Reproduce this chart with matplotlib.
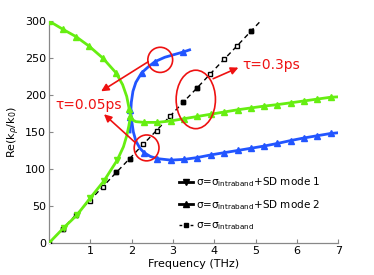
import numpy as np
import matplotlib
matplotlib.use("Agg")
import matplotlib.pyplot as plt
from matplotlib.patches import Ellipse

# ── Data ──────────────────────────────────────────────────────────────────────
# sigma = sigma_intraband (black dashed line)
intra_f = [0, 0.33, 0.65, 0.98, 1.3, 1.63, 1.95, 2.28, 2.6, 2.93, 3.25, 3.58,
           3.9, 4.23, 4.55, 4.88, 5.1]
intra_k = [0, 19, 38, 57, 76, 95.5, 114, 133.5, 152, 171.5, 190.5, 209.5,
           228.5, 248, 266.5, 286, 299]
intra_filled = [1, 5, 6, 10, 11, 15]

# tau = 0.05 ps (green)
g1_f = [0, 0.355, 0.68, 1.0, 1.33, 1.65, 1.8, 1.88, 1.93, 1.96]
g1_k = [0, 20.5, 38, 61, 84, 112, 130, 145, 158, 168]
g1_marks = [1, 2, 3, 4, 5]

g2_f = [0, 0.33, 0.65, 0.97, 1.3, 1.62, 1.78, 1.88, 1.94, 1.97, 2.0, 2.1,
        2.3, 2.62, 2.95, 3.27, 3.59, 3.91, 4.23, 4.56, 4.88, 5.2, 5.52,
        5.85, 6.17, 6.49, 6.81, 7.0]
g2_k = [300, 289, 279, 266, 250, 230, 214, 198, 181, 172, 167, 164,
        163, 163, 165, 168, 171, 174, 177, 180, 182.5, 185, 187,
        189.5, 192, 194.5, 197, 197.5]
g2_marks = [0, 1, 2, 3, 4, 5, 8, 9] + list(range(12, 27))

# tau = 0.3 ps (blue)
b1_f = [1.96, 1.97, 1.99, 2.03, 2.1, 2.24, 2.4, 2.56, 2.8, 3.05, 3.24, 3.4]
b1_k = [150, 170, 190, 205, 217, 230, 238, 245, 251, 255, 258, 261]
b1_marks = [1, 5, 7, 10]

b2_f = [1.97, 2.0, 2.04, 2.1, 2.2, 2.3, 2.45, 2.62, 2.95, 3.27, 3.59, 3.91,
        4.23, 4.56, 4.88, 5.2, 5.52, 5.85, 6.17, 6.49, 6.81, 7.0]
b2_k = [180, 165, 150, 138, 128, 122, 117, 114, 112, 113, 115.5, 119,
        122, 125, 128, 131, 134.5, 138.5, 142, 145, 148, 149]
b2_marks = [0, 5, 7] + list(range(8, 21))

GREEN = "#66ee11"
BLUE = "#2255ff"
RED = "#ee1111"

fig = plt.figure(figsize=(3.74, 2.75), dpi=100)
ax = fig.add_axes([0.131, 0.1164, 0.774, 0.8072])

# intraband line: hollow markers with a few filled ones
ax.plot(intra_f, intra_k, "--", color="black", lw=1.0, dashes=(3.5, 2.5),
        marker="s", ms=3, mfc="white", mec="black", mew=1.0,
        markevery=list(range(16)), zorder=3)
ax.plot([intra_f[i] for i in intra_filled], [intra_k[i] for i in intra_filled],
        "s", color="black", ms=3.2, zorder=3)

ax.plot(b1_f, b1_k, "-", color=BLUE, lw=2, marker="^", ms=4.5, markevery=b1_marks, zorder=4)
ax.plot(b2_f, b2_k, "-", color=BLUE, lw=2, marker="^", ms=4.5, markevery=b2_marks, zorder=4)
ax.plot(g1_f, g1_k, "-", color=GREEN, lw=2, marker="v", ms=4.5, markevery=g1_marks, zorder=5)
ax.plot(g2_f, g2_k, "-", color=GREEN, lw=2, marker="^", ms=4.5, markevery=g2_marks, zorder=5)

# legend proxies
h1, = ax.plot([], [], "-", color="black", lw=2, marker="v", ms=4.5)
h2, = ax.plot([], [], "-", color="black", lw=2, marker="^", ms=4.5)
h3, = ax.plot([], [], "--", color="black", lw=1.0, dashes=(2, 2), marker="s", ms=3)
leg = ax.legend([h1, h2, h3],
                [r"σ=σ$_{\rm intraband}$+SD mode 1",
                 r"σ=σ$_{\rm intraband}$+SD mode 2",
                 r"σ=σ$_{\rm intraband}$"],
                loc="upper left", bbox_to_anchor=(0.45, 0.305), frameon=False,
                fontsize=7.5, handlelength=1.3, handletextpad=0.3,
                labelspacing=0.85, borderaxespad=0, borderpad=0)

# red annotations
ax.add_patch(Ellipse((2.69, 247.5), 0.6, 34, fill=False, ec=RED, lw=1.2, zorder=6))
ax.add_patch(Ellipse((2.36, 128.5), 0.6, 35, fill=False, ec=RED, lw=1.2, zorder=6))
ax.add_patch(Ellipse((3.55, 194), 0.95, 79, fill=False, ec=RED, lw=1.2, zorder=6))
arrow = dict(arrowstyle="-|>", color=RED, lw=1.2, mutation_scale=11, shrinkA=0, shrinkB=0)
ax.annotate("", xy=(1.26, 205), xytext=(2.4, 245), arrowprops=arrow, zorder=6)
ax.annotate("", xy=(1.33, 174), xytext=(2.08, 136), arrowprops=arrow, zorder=6)
ax.annotate("", xy=(4.58, 237), xytext=(3.97, 222), arrowprops=arrow, zorder=6)
ax.text(0.15, 187, "τ=0.05ps", color=RED, fontsize=10, va="center", ha="left")
ax.text(4.68, 241, "τ=0.3ps", color=RED, fontsize=10, va="center", ha="left")

ax.set_xlim(0, 7)
ax.set_ylim(0, 300)
ax.set_xticks([1, 2, 3, 4, 5, 6, 7])
ax.set_yticks([0, 50, 100, 150, 200, 250, 300])
ax.tick_params(direction="in", length=3, width=0.8, color="#888888",
               labelsize=8, pad=2)
for s in ["top", "right"]:
    ax.spines[s].set_visible(False)
for s in ["left", "bottom"]:
    ax.spines[s].set_color("#888888")
    ax.spines[s].set_linewidth(0.9)

ax.set_xlabel("Frequency (THz)", fontsize=8, labelpad=2)
ax.set_ylabel(r"Re(k$_\rho$/k$_0$)", fontsize=8, labelpad=2)

plt.savefig("out.png", dpi=100)
plt.close()
